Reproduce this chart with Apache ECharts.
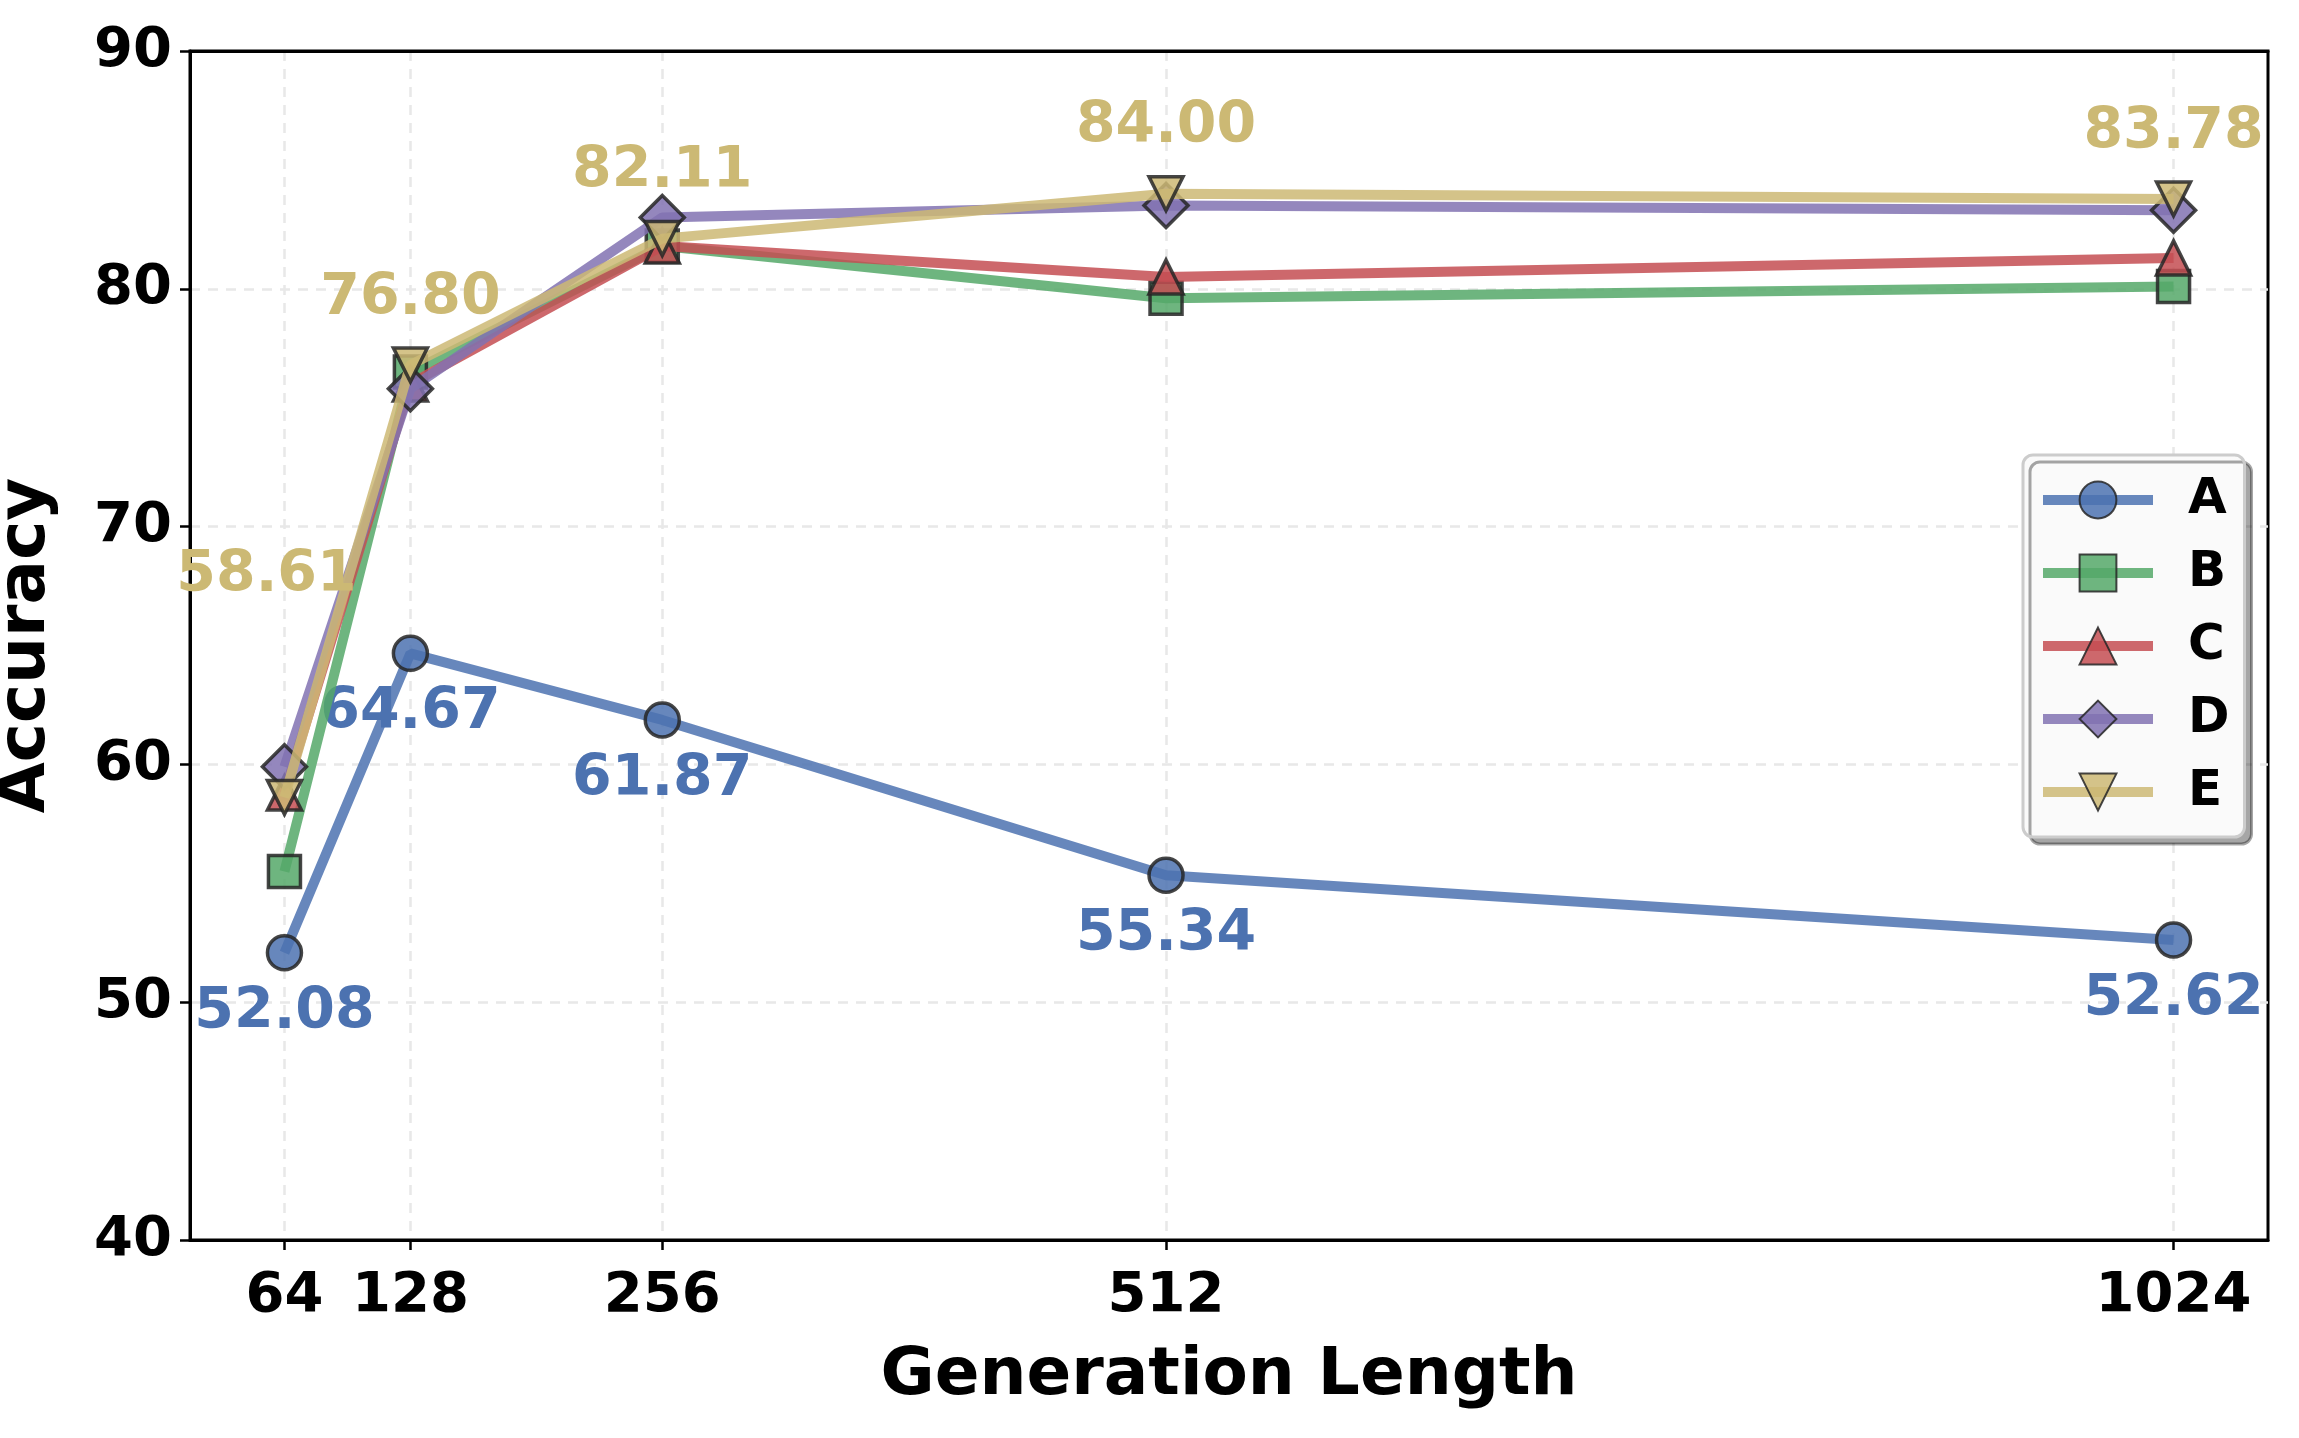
<!DOCTYPE html>
<html>
<head>
<meta charset="utf-8">
<script src="https://cdn.jsdelivr.net/npm/echarts@6/dist/echarts.min.js"></script>
<style>
  html, body { margin: 0; padding: 0; background: #fff; }
  #chart { width: 2299px; height: 1438px; }
</style>
</head>
<body>
<div id="chart"></div>
<script>
// generation lengths (x) and accuracy per method
var genLength = [64, 128, 256, 512, 1024];
var seriesNames = ['A', 'B', 'C', 'D', 'E'];
var accA = [52.08, 64.67, 61.87, 55.34, 52.62];
var accB = [55.5, 76.5, 81.8, 79.6, 80.1];
var accC = [58.8, 76.0, 81.8, 80.5, 81.3];
var accD = [59.9, 75.8, 83.0, 83.5, 83.3];
var accE = [58.61, 76.80, 82.11, 84.00, 83.78];
var yTicks = [40, 50, 60, 70, 80, 90];

var font = 'DejaVu Sans';
var colors = ['#4C72B0', '#55A868', '#C44E52', '#8172B2', '#CCB974'];
var symbols = ['circle', 'rect', 'triangle', 'diamond', 'path://M0,0 L10,0 L5,10 Z'];
var sizes = [34, 32, 34, 44, 34];

var chart = echarts.init(document.getElementById('chart'));

function makeSeries(idx, values, label) {
  var s = {
    name: seriesNames[idx],
    type: 'line',
    z: 2 + idx,
    data: genLength.map(function (x, i) { return [x, values[i]]; }),
    symbol: symbols[idx],
    symbolSize: sizes[idx],
    lineStyle: { width: 10, color: colors[idx], opacity: 0.85 },
    itemStyle: { color: colors[idx], borderColor: '#262626', borderWidth: 3.5, opacity: 0.85 },
    emphasis: { disabled: true },
    label: { show: false }
  };
  if (label) {
    s.label = {
      show: true,
      position: 'inside',
      offset: label.offset,
      fontFamily: font,
      fontWeight: 'bold',
      fontSize: 57,
      color: colors[idx],
      opacity: 1,
      formatter: function (p) { return p.value[1].toFixed(2); }
    };
  }
  return s;
}

var seriesList = [
  makeSeries(0, accA, { offset: [0, 60] }),
  makeSeries(1, accB),
  makeSeries(2, accC),
  makeSeries(3, accD),
  makeSeries(4, accE, { offset: [0, -66] })
];
// the first E label sits higher and to the left of its point
seriesList[4].data[0] = {
  value: seriesList[4].data[0],
  label: { offset: [-18, -221] }
};

var gridLine = { color: '#e8e8e8', width: 2.5, type: [10, 8] };

var option = {
  backgroundColor: '#fff',
  animation: false,
  grid: {
    left: 190, right: 31, top: 51, bottom: 198,
    outerBoundsMode: 'none',
    containLabel: false,
    show: true, borderColor: '#000', borderWidth: 3, backgroundColor: 'transparent'
  },
  legend: {
    data: seriesNames,
    orient: 'vertical',
    left: 2023,
    top: 455,
    padding: [20, 15, 20, 15],
    itemWidth: 110,
    itemHeight: 46,
    itemGap: 23,
    lineStyle: { width: 10 },
    backgroundColor: '#fafafa',
    borderColor: '#cccccc',
    borderWidth: 3,
    borderRadius: 10,
    shadowColor: 'rgba(0,0,0,0.35)',
    shadowOffsetX: 7,
    shadowOffsetY: 7,
    shadowBlur: 0,
    textStyle: {
      fontFamily: font, fontWeight: 'bold', fontSize: 50, color: '#000',
      lineHeight: 46, width: 40, padding: [0, 0, 0, 30]
    }
  },
  xAxis: [{
    type: 'value',
    min: 16,
    max: 1072,
    name: 'Generation Length',
    nameLocation: 'middle',
    nameGap: 104,
    nameTextStyle: { fontFamily: font, fontWeight: 'bold', fontSize: 66, color: '#000' },
    axisLine: { show: true, onZero: false, lineStyle: { color: '#000', width: 3 } },
    axisTick: { show: true, length: 10, customValues: genLength, lineStyle: { color: '#000', width: 2.5 } },
    axisLabel: {
      customValues: genLength, margin: 28,
      fontFamily: font, fontWeight: 'bold', fontSize: 56, color: '#000',
      formatter: function (v) { return String(v); }
    },
    splitLine: { show: true, lineStyle: gridLine }
  }, {
    // top spine drawn over the 90 grid line
    type: 'value', position: 'top', min: 16, max: 1072,
    axisLine: { show: true, onZero: false, lineStyle: { color: '#000', width: 3 } },
    axisTick: { show: false }, axisLabel: { show: false }, splitLine: { show: false }
  }],
  yAxis: {
    type: 'value',
    min: yTicks[0],
    max: yTicks[yTicks.length - 1],
    interval: 10,
    name: 'Accuracy',
    nameLocation: 'middle',
    nameGap: 130,
    nameTextStyle: { fontFamily: font, fontWeight: 'bold', fontSize: 66, color: '#000' },
    axisLine: { show: true, lineStyle: { color: '#000', width: 3 } },
    axisTick: { show: true, length: 10, lineStyle: { color: '#000', width: 2.5 } },
    axisLabel: { margin: 18, fontFamily: font, fontWeight: 'bold', fontSize: 56, color: '#000' },
    splitLine: { show: true, lineStyle: gridLine }
  },
  series: seriesList
};

chart.setOption(option);
</script>
</body>
</html>
